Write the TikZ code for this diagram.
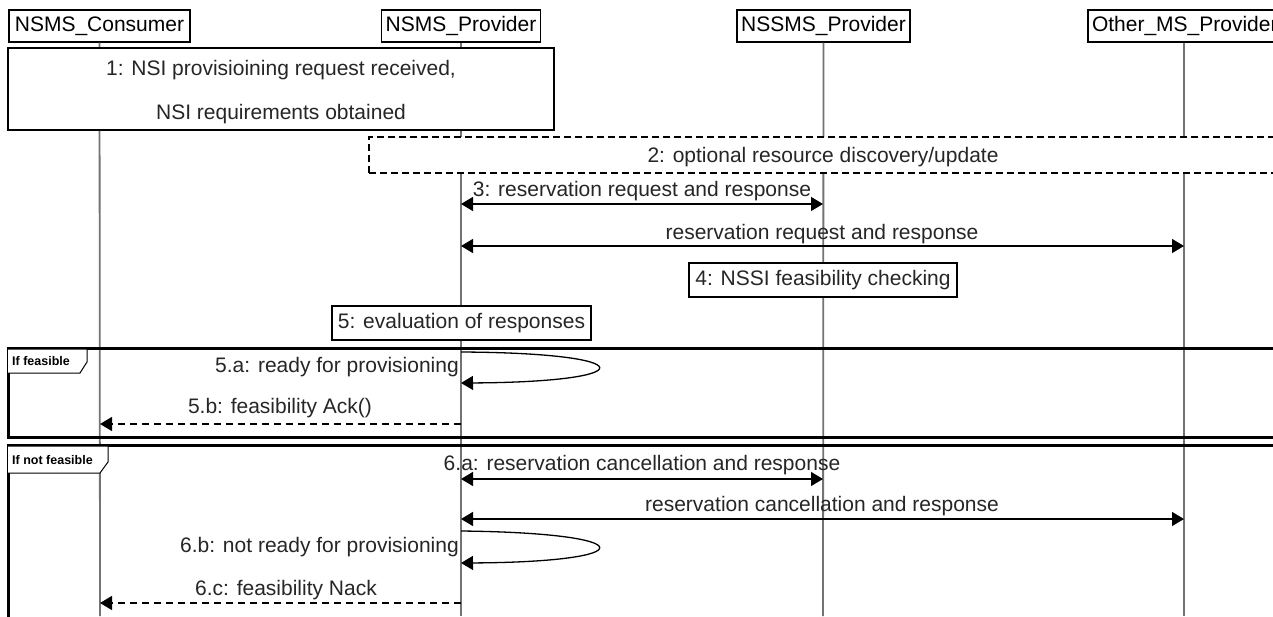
\documentclass[tikz,border=0pt]{standalone}
\usepackage{fontspec}
\setmainfont{Liberation Sans}
\usetikzlibrary{arrows.meta}
\begin{document}
\begin{tikzpicture}[x=1pt,y=-1pt,
  every node/.style={font=\fontsize{21}{24}\selectfont, inner sep=0pt, text=black!85},
  head/.style={draw=black, line width=1.3pt, fill=white, minimum height=32pt, text=black},
  note/.style={draw=black, line width=1.3pt, fill=white},
  lifeline/.style={draw=black!55, line width=1.8pt},
  msg/.style={line width=1.3pt, {Triangle[length=12pt,width=14pt]}-{Triangle[length=12pt,width=14pt]}},
  selfmsg/.style={line width=1.3pt, -{Triangle[length=12pt,width=14pt]}},
  reply/.style={line width=1.3pt, dash pattern=on 7pt off 5pt, -{Triangle[length=12pt,width=14pt]}},
  frame/.style={draw=black, line width=3pt},
  tab/.style={draw=black, line width=1pt, fill=white},
  tablabel/.style={font=\fontsize{12.5}{14}\bfseries, anchor=west, text=black}]
\clip (0,0) rectangle (1273,616);
\fill[white] (0,0) rectangle (1273,616);
% headers
\node[head, minimum width=181pt] (hC) at (99.5,26) {NSMS\_Consumer};
\node[head, minimum width=159pt] (hP) at (461,26) {NSMS\_Provider};
\node[head, minimum width=173pt] (hS) at (823.5,26) {NSSMS\_Provider};
\node[head, minimum width=192pt, text width=184pt, align=left] (hO) at (1184,26) {Other\_MS\_Provider};
\coordinate (eC) at (100,616);
\coordinate (eP) at (461,616);
\coordinate (eS) at (823,616);
\coordinate (eO) at (1184,616);
\draw[lifeline] (hC.south) -- (eC);
\draw[lifeline] (hP.south) -- (eP);
\draw[lifeline] (hS.south) -- (eS);
\draw[lifeline] (hO.south) -- (eO);
% note 1
\node[note, minimum width=546pt, minimum height=82pt] (n1) at (281,89) {};
\node (t1a) at (281,70) {1: NSI provisioining request received,};
\node (t1b) at (281,114) {NSI requirements obtained};
% box 2
\node[note, dashed, dash pattern=on 7pt off 4pt, minimum width=930pt, minimum height=36pt] (n2) at (834,155) {};
\node (t2) at (823,157) {2: optional resource discovery/update};
% 3
\coordinate (p3) at (461,204);
\coordinate (s3) at (823,204);
\draw[msg] (p3) -- (s3);
\node (t3) at (642,191) {3: reservation request and response};
\coordinate (p3b) at (461,246);
\coordinate (o3b) at (1184,246);
\draw[msg] (p3b) -- (o3b);
\node (t3b) at (822,234) {reservation request and response};
% 4, 5
\node[note, minimum width=268pt, minimum height=34pt] (n4) at (823,280) {4: NSSI feasibility checking};
\node[note, minimum width=259pt, minimum height=34pt] (n5) at (461.5,323) {5: evaluation of responses};
% frame if feasible
\draw[frame] (8,348) rectangle (1300,437);
\draw[tab] (8,349) -- (87,349) -- (87,362) -- (80,373) -- (8,373);
\node[tablabel] (f1) at (12,361) {If feasible};
\coordinate (l5s) at (461,352);
\coordinate (l5e) at (461,383);
\draw[selfmsg] (l5s) .. controls (644,353) and (644,382) .. (l5e);
\node[anchor=east] (t5a) at (459,367) {5.a: ready for provisioning};
\coordinate (p5b) at (461,424);
\coordinate (c5b) at (100,424);
\draw[reply] (p5b) -- (c5b);
\node (t5b) at (280,408) {5.b: feasibility Ack()};
% frame if not feasible
\draw[frame] (8,445) rectangle (1300,640);
\draw[tab] (8,446) -- (108,446) -- (108,462) -- (100,473) -- (8,473);
\node[tablabel] (f2) at (12,460) {If not feasible};
\coordinate (p6a) at (461,479);
\coordinate (s6a) at (823,479);
\draw[msg] (p6a) -- (s6a);
\node (t6a) at (642,465) {6.a: reservation cancellation and response};
\coordinate (p6b) at (461,519);
\coordinate (o6b) at (1184,519);
\draw[msg] (p6b) -- (o6b);
\node (t6b) at (822,506) {reservation cancellation and response};
\coordinate (l6s) at (461,531);
\coordinate (l6e) at (461,563);
\draw[selfmsg] (l6s) .. controls (644,533) and (644,562) .. (l6e);
\node[anchor=east] (t6c) at (459,547) {6.b: not ready for provisioning};
\coordinate (p6c) at (461,603);
\coordinate (c6c) at (100,603);
\draw[reply] (p6c) -- (c6c);
\node (t6d) at (286,590) {6.c: feasibility Nack};
\end{tikzpicture}
\end{document}
